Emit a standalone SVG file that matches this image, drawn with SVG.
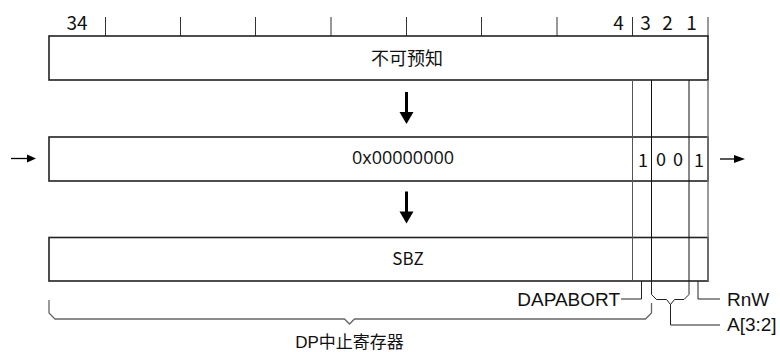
<svg xmlns="http://www.w3.org/2000/svg" width="780" height="352" viewBox="0 0 780 352">
<style>
.box{fill:#fff;stroke:#222;stroke-width:1.6}
.tick{stroke:#333;stroke-width:1}
.div{stroke:#111;stroke-width:1}
.divg{stroke:#555;stroke-width:1}
.edge{stroke:#777;stroke-width:1.5}
.brk{fill:none;stroke:#666;stroke-width:1.3}
.lead{fill:none;stroke:#222;stroke-width:1}
.cjk{font-family:"Noto Sans CJK SC","Noto Sans",sans-serif;fill:#111}
.lat{font-family:"Liberation Sans",Arial,sans-serif;fill:#111}
.hex{font-family:"Open Sans","Noto Sans",sans-serif;fill:#111}
</style>
<rect width="780" height="352" fill="#fff"/>
<g id="scale">
<line class="tick" x1="105.5" y1="17" x2="105.5" y2="36"/>
<line class="tick" x1="180.5" y1="17" x2="180.5" y2="36"/>
<line class="tick" x1="255.5" y1="17" x2="255.5" y2="36"/>
<line class="tick" x1="331" y1="17" x2="331" y2="36"/>
<line class="tick" x1="406.5" y1="17" x2="406.5" y2="36"/>
<line class="tick" x1="481.5" y1="17" x2="481.5" y2="36"/>
<line class="tick" x1="557" y1="17" x2="557" y2="36"/>
<line class="tick" x1="632.5" y1="17" x2="632.5" y2="36"/>
<line class="edge" x1="708" y1="17" x2="708" y2="36"/>
<text class="cjk" x="77" y="29.5" font-size="19" text-anchor="middle">34</text>
<text class="cjk" x="618.5" y="29.5" font-size="19" text-anchor="middle">4</text>
<text class="cjk" x="645.5" y="29.5" font-size="19" text-anchor="middle">3</text>
<text class="cjk" x="667.5" y="29.5" font-size="19" text-anchor="middle">2</text>
<text class="cjk" x="691.5" y="29.5" font-size="19" text-anchor="middle">1</text>
</g>
<g id="box-unknown">
<rect class="box" x="49" y="36" width="659" height="44"/>
<text class="cjk" x="407" y="65" font-size="18" text-anchor="middle">不可预知</text>
</g>
<g id="box-value">
<rect class="box" x="49" y="137" width="659" height="44"/>
<text class="hex" x="403" y="163.5" font-size="18" text-anchor="middle">0x00000000</text>
<text class="cjk" x="643" y="167" font-size="18" text-anchor="middle">1</text>
<text class="cjk" x="661" y="166" font-size="18" text-anchor="middle">0</text>
<text class="cjk" x="678" y="166" font-size="18" text-anchor="middle">0</text>
<text class="cjk" x="699" y="167" font-size="18" text-anchor="middle">1</text>
</g>
<g id="box-sbz">
<rect class="box" x="49" y="237.5" width="659" height="43.5"/>
<text class="cjk" x="408" y="265" font-size="17" text-anchor="middle">SBZ</text>
</g>
<g id="fields">
<line class="divg" x1="632.5" y1="80" x2="632.5" y2="281"/>
<line class="div" x1="651.5" y1="80" x2="651.5" y2="281"/>
<line class="div" x1="689" y1="80" x2="689" y2="281"/>
<line class="edge" x1="708" y1="80" x2="708" y2="281"/>
</g>
<g id="connectors">
<line x1="406.5" y1="92" x2="406.5" y2="114" stroke="#000" stroke-width="3"/>
<polygon points="399.5,112 413.5,112 406.5,124" fill="#000"/>
<line x1="406.5" y1="191.5" x2="406.5" y2="213" stroke="#000" stroke-width="3"/>
<polygon points="399.5,211.5 413.5,211.5 406.5,223.5" fill="#000"/>
<line x1="11" y1="158.5" x2="28" y2="158.5" stroke="#000" stroke-width="1.3"/>
<polygon points="27,154.5 27,162.5 36,158.5" fill="#000"/>
<line x1="720" y1="159" x2="735" y2="159" stroke="#000" stroke-width="1.3"/>
<polygon points="734,155 734,163 745,159" fill="#000"/>
<polyline class="brk" points="49,300 49,313 55,319 344.5,319 349.5,324 354.5,319 645.5,319 651.5,313 651.5,303"/>
<polyline class="lead" points="641.5,281 641.5,299 621,299"/>
<polyline class="lead" points="651.5,281 651.5,294.5 656.5,299.5 666.5,299.5 670.5,304.5 674.5,299.5 684,299.5 689,294.5 689,281"/>
<polyline class="lead" points="670.5,304.5 670.5,325 720,325"/>
<polyline class="lead" points="698,281 698,299 720,299"/>
</g>
<g id="labels">
<text class="lat" x="620" y="306" font-size="19" text-anchor="end">DAPABORT</text>
<text class="lat" x="727" y="306" font-size="19">RnW</text>
<text class="lat" x="727" y="331" font-size="19">A[3:2]</text>
<text x="349.5" y="348" font-size="17" text-anchor="middle" font-family="'Liberation Sans','Noto Sans CJK SC',sans-serif" fill="#111">DP中止寄存器</text>
</g>
</svg>
